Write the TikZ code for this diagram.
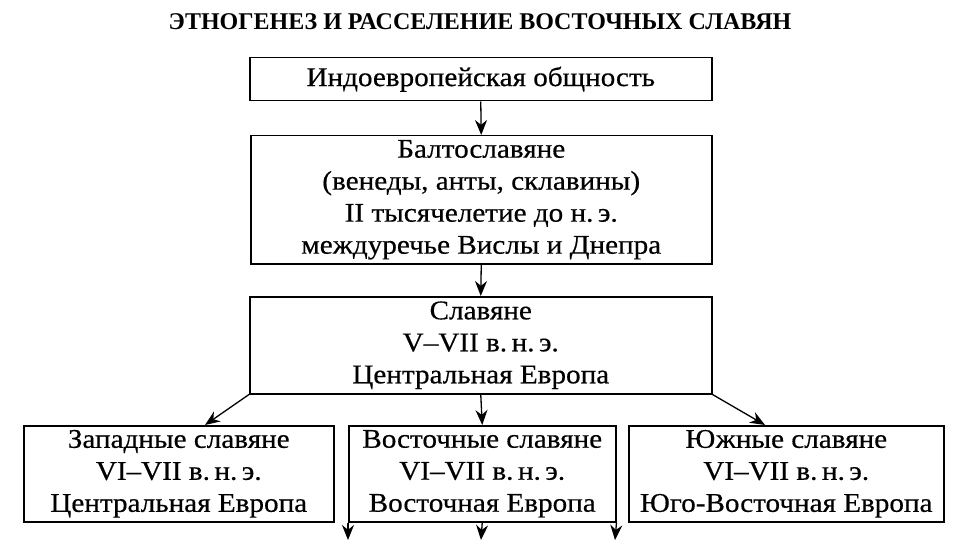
\documentclass[tikz,border=0pt]{standalone}
\usepackage{fontspec}
\setmainfont{Liberation Serif}
\newfontfamily\wide[FakeStretch=1.08,FakeBold=0.5]{Liberation Serif}
\usetikzlibrary{arrows.meta}
\begin{document}
\begin{tikzpicture}[x=1pt,y=-1pt,
  bx/.style={draw,line width=1.5pt,inner sep=0pt,align=center,font=\wide\fontsize{27}{32}\selectfont,anchor=north west},
  ar/.style={-{Stealth[length=15pt,width=12pt]},line width=1.3pt}]
\useasboundingbox (0,0) rectangle (974,540);
\node[font=\bfseries\fontsize{24}{26}\selectfont] (t) at (480,22) {ЭТНОГЕНЕЗ И РАССЕЛЕНИЕ ВОСТОЧНЫХ СЛАВЯН};
\node[bx,minimum width=462pt,minimum height=43pt] (a) at (249,57) {Индоевропейская общность};
\node[bx,minimum width=461pt,minimum height=128pt] (b) at (250,135) {Балтославяне\\(венеды, анты, склавины)\\II тысячелетие до н.\,э.\\междуречье Вислы и Днепра};
\node[bx,minimum width=462pt,minimum height=97pt] (c) at (249,296) {Славяне\\V–VII в.\,н.\,э.\\Центральная Европа};
\node[bx,minimum width=310pt,minimum height=96pt] (l) at (23,425) {Западные славяне\\VI–VII в.\,н.\,э.\\Центральная Европа};
\node[bx,minimum width=267pt,minimum height=96pt] (m) at (348,425) {Восточные славяне\\VI–VII в.\,н.\,э.\\Восточная Европа};
\node[bx,minimum width=315pt,minimum height=96pt] (r) at (628,425) {Южные славяне\\VI–VII в.\,н.\,э.\\Юго-Восточная Европа};
\draw[ar] (a.south) -- (b.north);
\draw[ar] (b.south) -- (c.north);
\draw[ar] (c.south) -- (m.north);
\draw[ar] (c.south west) -- (l.north -| 205,0);
\draw[ar] (c.south east) -- (r.north -| 765,0);
\coordinate (e1) at (348,540); \coordinate (e2) at (481,540); \coordinate (e3) at (615,540);
\draw[ar] (m.south west) -- (e1);
\draw[ar] (m.south) -- (e2);
\draw[ar] (m.south east) -- (e3);
\end{tikzpicture}
\end{document}
